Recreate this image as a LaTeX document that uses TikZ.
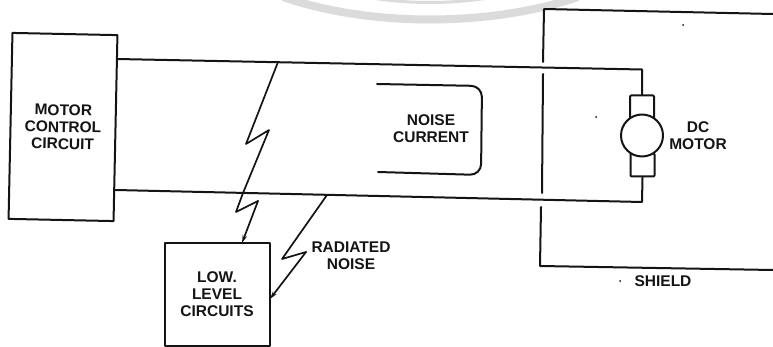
\documentclass[tikz,border=0pt]{standalone}
\usepackage{fontspec}
\setmainfont{Liberation Sans}
\usetikzlibrary{arrows.meta}
\definecolor{ink}{gray}{0.08}
\tikzset{
  ln/.style={draw=ink,line width=2pt,line join=round,line cap=round},
  labeltxt/.style={text=ink,font=\fontsize{15.5}{17}\selectfont\bfseries,align=center,inner sep=0pt},
  boxnode/.style={ln,labeltxt,rectangle,inner sep=0pt},
  brush/.style={ln,rectangle,rounded corners=1pt,minimum width=24pt,minimum height=25pt,inner sep=0pt},
  zap/.style={ln,line width=1.7pt,-{Stealth[length=8pt,width=4.5pt]}},
  zapplain/.style={ln,line width=1.7pt},
  water/.style={draw=black!14,line cap=butt},
  speck/.style={fill=ink,circle,inner sep=0pt,minimum size=2pt},
}
\begin{document}
\begin{tikzpicture}[x=1pt,y=-1pt]
\useasboundingbox (0,0) rectangle (773,347);
% watermark arcs
\draw[water,line width=8pt] (283,-3) .. controls (370,27) and (490,27) .. (578,-3);
\draw[water,line width=3pt] (372,-2) .. controls (410,4) and (450,4) .. (488,-2);
% blocks
\node[boxnode,minimum width=105pt,minimum height=186pt,rotate=-1.2] (mcc) at (63,127)
  {MOTOR\\CONTROL\\CIRCUIT};
\node[boxnode,minimum width=105pt,minimum height=103pt] (llc) at (217,294.5)
  {LOW.\\LEVEL\\CIRCUITS};
% motor
\node[brush] (bt) at (642,108) {};
\node[brush,minimum height=23pt] (bb) at (642.5,165) {};
\node[ln,circle,fill=white,minimum size=42pt,inner sep=0pt] (arm) at (642,135.5) {};
% wires
\coordinate (u0) at (117,59);
\coordinate (uc) at (642,69.5);
\coordinate (l0) at (115.5,190);
\coordinate (lc) at (642,202);
\draw[ln] (u0) -- (uc) -- (bt.north);
\draw[ln] (l0) -- (lc) -- (bb.south);
% shield
\coordinate (s1) at (773,14);
\coordinate (s2) at (544,9);
\coordinate (s3) at (543,62);
\coordinate (s4) at (543,74);
\coordinate (s5) at (542,193);
\coordinate (s6) at (541,207);
\coordinate (s7) at (540,266);
\coordinate (s8) at (773,270);
\draw[ln] (s1) -- (s2) -- (s3);
\draw[ln] (s4) -- (s5);
\draw[ln] (s6) -- (s7) -- (s8);
% noise current loop
\coordinate (n1) at (377,84);
\coordinate (n2) at (482,86);
\coordinate (n3) at (481,175);
\coordinate (n4) at (378,172);
\draw[ln,rounded corners=11pt] (n1) -- (n2) -- (n3) -- (n4);
% lightning
\coordinate (z1a) at (278,62);
\coordinate (z1b) at (246,144);
\coordinate (z1c) at (269,130);
\coordinate (z1d) at (243,193);
\coordinate (z1e) at (236,212);
\coordinate (z1f) at (258,201);
\coordinate (z1g) at (242,243);
\draw[zapplain] (z1a) -- (z1b) -- (z1c) -- (z1d) -- (z1e) -- (z1f);
\draw[zap] (z1f) -- (z1g);
\coordinate (z2a) at (327,195);
\coordinate (z2b) at (282,259);
\coordinate (z2c) at (306,252);
\coordinate (z2d) at (270,299);
\draw[zapplain] (z2a) -- (z2b) -- (z2c);
\draw[zap] (z2c) -- (z2d);
% labels
\node[labeltxt] (nc) at (431,128.5) {NOISE\\CURRENT};
\node[labeltxt] (dc) at (698,135.5) {DC\\MOTOR};
\node[labeltxt] (rn) at (351,255.5) {RADIATED\\NOISE};
\node[labeltxt] (sh) at (663,281) {SHIELD};
% specks
\node[speck] (d1) at (683,25) {};
\node[speck] (d2) at (596,117) {};
\node[speck] (d3) at (620,281) {};
\end{tikzpicture}
\end{document}
